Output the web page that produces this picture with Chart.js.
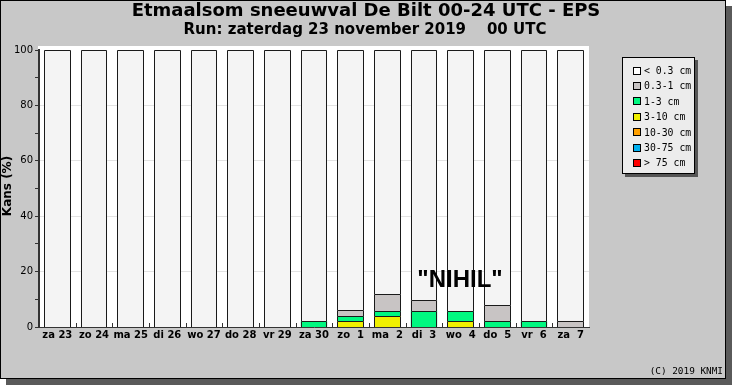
<!DOCTYPE html>
<html>
<head>
<meta charset="utf-8">
<script src="https://cdn.jsdelivr.net/npm/chart.js@4.4.1/dist/chart.umd.min.js"></script>
<style>
  html, body { margin: 0; padding: 0; background: #fff; }
  canvas { display: block; }
</style>
</head>
<body>
<canvas id="chart" width="732" height="385"></canvas>
<script>
const days = ['za 23','zo 24','ma 25','di 26','wo 27','do 28','vr 29','za 30','zo  1','ma  2','di  3','wo  4','do  5','vr  6','za  7']

// kans (%) per klasse, 51 leden -> stappen van ~2%
const gt75   = [0,0,0,0,0,0,0,0,0,0,0,0,0,0,0]
const c30_75 = [0,0,0,0,0,0,0,0,0,0,0,0,0,0,0]
const c10_30 = [0,0,0,0,0,0,0,0,0,0,0,0,0,0,0]
const c3_10  = [0,0,0,0,0,0,0,0,2,3.9,0,2,0,0,0]
const c1_3   = [0,0,0,0,0,0,0,2,2,2,5.9,3.9,2,2,0]
const c03_1  = [0,0,0,0,0,0,0,0,2,5.9,3.9,0,5.9,0,2]
const lt03   = [100,100,100,100,100,100,100,98,94.1,88.2,90.2,94.1,92.1,98,98]

const yTicks = [0,20,40,60,80,100]

const title = 'Etmaalsom sneeuwval De Bilt 00-24 UTC - EPS'
const subtitle = 'Run: zaterdag 23 november 2019    00 UTC'

const ds = (label, data, color) => ({
  label, data, backgroundColor: color, borderWidth: 0,
  barPercentage: 0.72, categoryPercentage: 1
})

const datasets = [
  ds('> 75 cm', gt75, '#ff0000'),
  ds('30-75 cm', c30_75, '#00b0f0'),
  ds('10-30 cm', c10_30, '#ffa000'),
  ds('3-10 cm', c3_10, '#f0f000'),
  ds('1-3 cm', c1_3, '#00f880'),
  ds('0.3-1 cm', c03_1, '#c8c4c4'),
  ds('< 0.3 cm', lt03, '#f4f4f4')
]

const frame = {
  id: 'frame',
  beforeDraw(chart){
    const {ctx, chartArea:a} = chart
    ctx.save()
    ctx.fillStyle = '#fff'
    ctx.fillRect(0,0,732,385)
    ctx.fillStyle = '#5a5a5a'
    ctx.fillRect(6,6,726,379)
    ctx.fillStyle = '#c8c8c8'
    ctx.fillRect(0,0,726,379)
    ctx.strokeStyle = '#000'
    ctx.lineWidth = 1
    ctx.strokeRect(0.5,0.5,725,378)
    ctx.fillStyle = '#fff'
    ctx.fillRect(a.left-1, a.top-4, a.right-a.left+1, a.bottom-a.top+4)
    ctx.restore()
  },
  afterDatasetsDraw(chart){
    const {ctx, chartArea:a, scales} = chart
    const x = scales.x
    ctx.save()
    // scherpe randen om elk segment, uit de bar-elementen van Chart.js
    chart.data.datasets.forEach((d, di) => {
      const meta = chart.getDatasetMeta(di)
      meta.data.forEach((el, i) => {
        if(!d.data[i]) return
        const p = el.getProps(['x','y','base','width'], true)
        const l = Math.round(p.x - p.width/2), r = Math.round(p.x + p.width/2)
        const t = Math.round(p.y), b = Math.round(p.base)
        ctx.fillStyle = d.backgroundColor
        ctx.fillRect(l, t, r-l, b-t)
        ctx.strokeStyle = '#1a1a1a'
        ctx.lineWidth = 1
        ctx.beginPath()
        ctx.moveTo(l+0.5, b); ctx.lineTo(l+0.5, t+0.5); ctx.lineTo(r-0.5, t+0.5); ctx.lineTo(r-0.5, b)
        ctx.stroke()
      })
    })
    ctx.strokeStyle = '#333'
    for(let i=1;i<days.length;i++){
      const px = Math.round((x.getPixelForValue(i-1)+x.getPixelForValue(i))/2)+0.5
      ctx.beginPath(); ctx.moveTo(px,a.bottom); ctx.lineTo(px,a.bottom-4); ctx.stroke()
    }
    ctx.restore()
  },
  afterDraw(chart){
    const {ctx} = chart
    ctx.save()
    ctx.fillStyle = '#000'
    ctx.textAlign = 'center'
    ctx.textBaseline = 'middle'
    ctx.font = 'bold 18px "DejaVu Sans"'
    ctx.fillText(title, 366, 11)
    ctx.font = 'bold 15px "DejaVu Sans"'
    ctx.fillText(subtitle, 365, 30)

    ctx.font = 'bold 24px "Liberation Sans"'
    ctx.fillText('"NIHIL"', 460, 280)

    ctx.save()
    ctx.translate(8, 186)
    ctx.rotate(-Math.PI/2)
    ctx.font = 'bold 12px "DejaVu Sans"'
    ctx.fillText('Kans (%)', 0, 0)
    ctx.restore()

    ctx.textAlign = 'right'
    ctx.font = '9.4px "DejaVu Sans Mono"'
    ctx.fillText('(C) 2019 KNMI', 723, 372)

    // legenda
    const lx = 622, ly = 57, lw = 73, lh = 117
    ctx.fillStyle = '#555'
    ctx.fillRect(lx+3, ly+3, lw, lh)
    ctx.fillStyle = '#ececec'
    ctx.fillRect(lx, ly, lw, lh)
    ctx.strokeStyle = '#000'
    ctx.strokeRect(lx+0.5, ly+0.5, lw-1, lh-1)
    ctx.textAlign = 'left'
    ctx.font = '9.8px "DejaVu Sans Mono"'
    const items = chart.data.datasets.slice().reverse()
    items.forEach((d,i) => {
      const y = 70.5 + i*15.4
      ctx.fillStyle = d.backgroundColor === '#f4f4f4' ? '#ffffff' : d.backgroundColor
      ctx.fillRect(633, Math.round(y)-4, 8, 8)
      ctx.strokeStyle = '#000'
      ctx.strokeRect(633.5, Math.round(y)-3.5, 7, 7)
      ctx.fillStyle = '#000'
      ctx.fillText(d.label, 644, y+1)
    })
    ctx.restore()
  }
}

new Chart(document.getElementById('chart'), {
  type: 'bar',
  data: { labels: days, datasets },
  options: {
    responsive: false,
    animation: false,
    devicePixelRatio: 1,
    layout: { padding: { left: 0, top: 50, right: 143, bottom: 0 } },
    plugins: { legend: { display: false }, tooltip: { enabled: false }, title: { display: false } },
    scales: {
      x: {
        stacked: true,
        afterFit: s => { s.height = 58 },
        grid: { display: false, drawTicks: false, tickLength: 0 },
        border: { display: true, color: '#333', width: 1 },
        ticks: { color: '#000', font: { family: 'DejaVu Sans', weight: 'bold', size: 10 }, padding: 2, maxRotation: 0, autoSkip: false }
      },
      y: {
        stacked: true,
        min: 0, max: 100,
        afterFit: s => { s.width = 39 },
        afterBuildTicks: s => { s.ticks = [0,10,20,30,40,50,60,70,80,90,100].map(v => ({value: v})) },
        border: { display: true, color: '#333', width: 2 },
        grid: {
          color: c => (yTicks.includes(c.tick.value) && c.tick.value !== 0 && c.tick.value !== 100) ? '#e2e2e2' : 'rgba(0,0,0,0)',
          tickColor: '#333',
          tickLength: 4,
          drawTicks: true
        },
        ticks: {
          color: '#000',
          padding: 2,
          font: { family: 'DejaVu Sans', size: 10 },
          callback: v => yTicks.includes(v) ? v : ''
        }
      }
    }
  },
  plugins: [frame]
})
</script>
</body>
</html>
